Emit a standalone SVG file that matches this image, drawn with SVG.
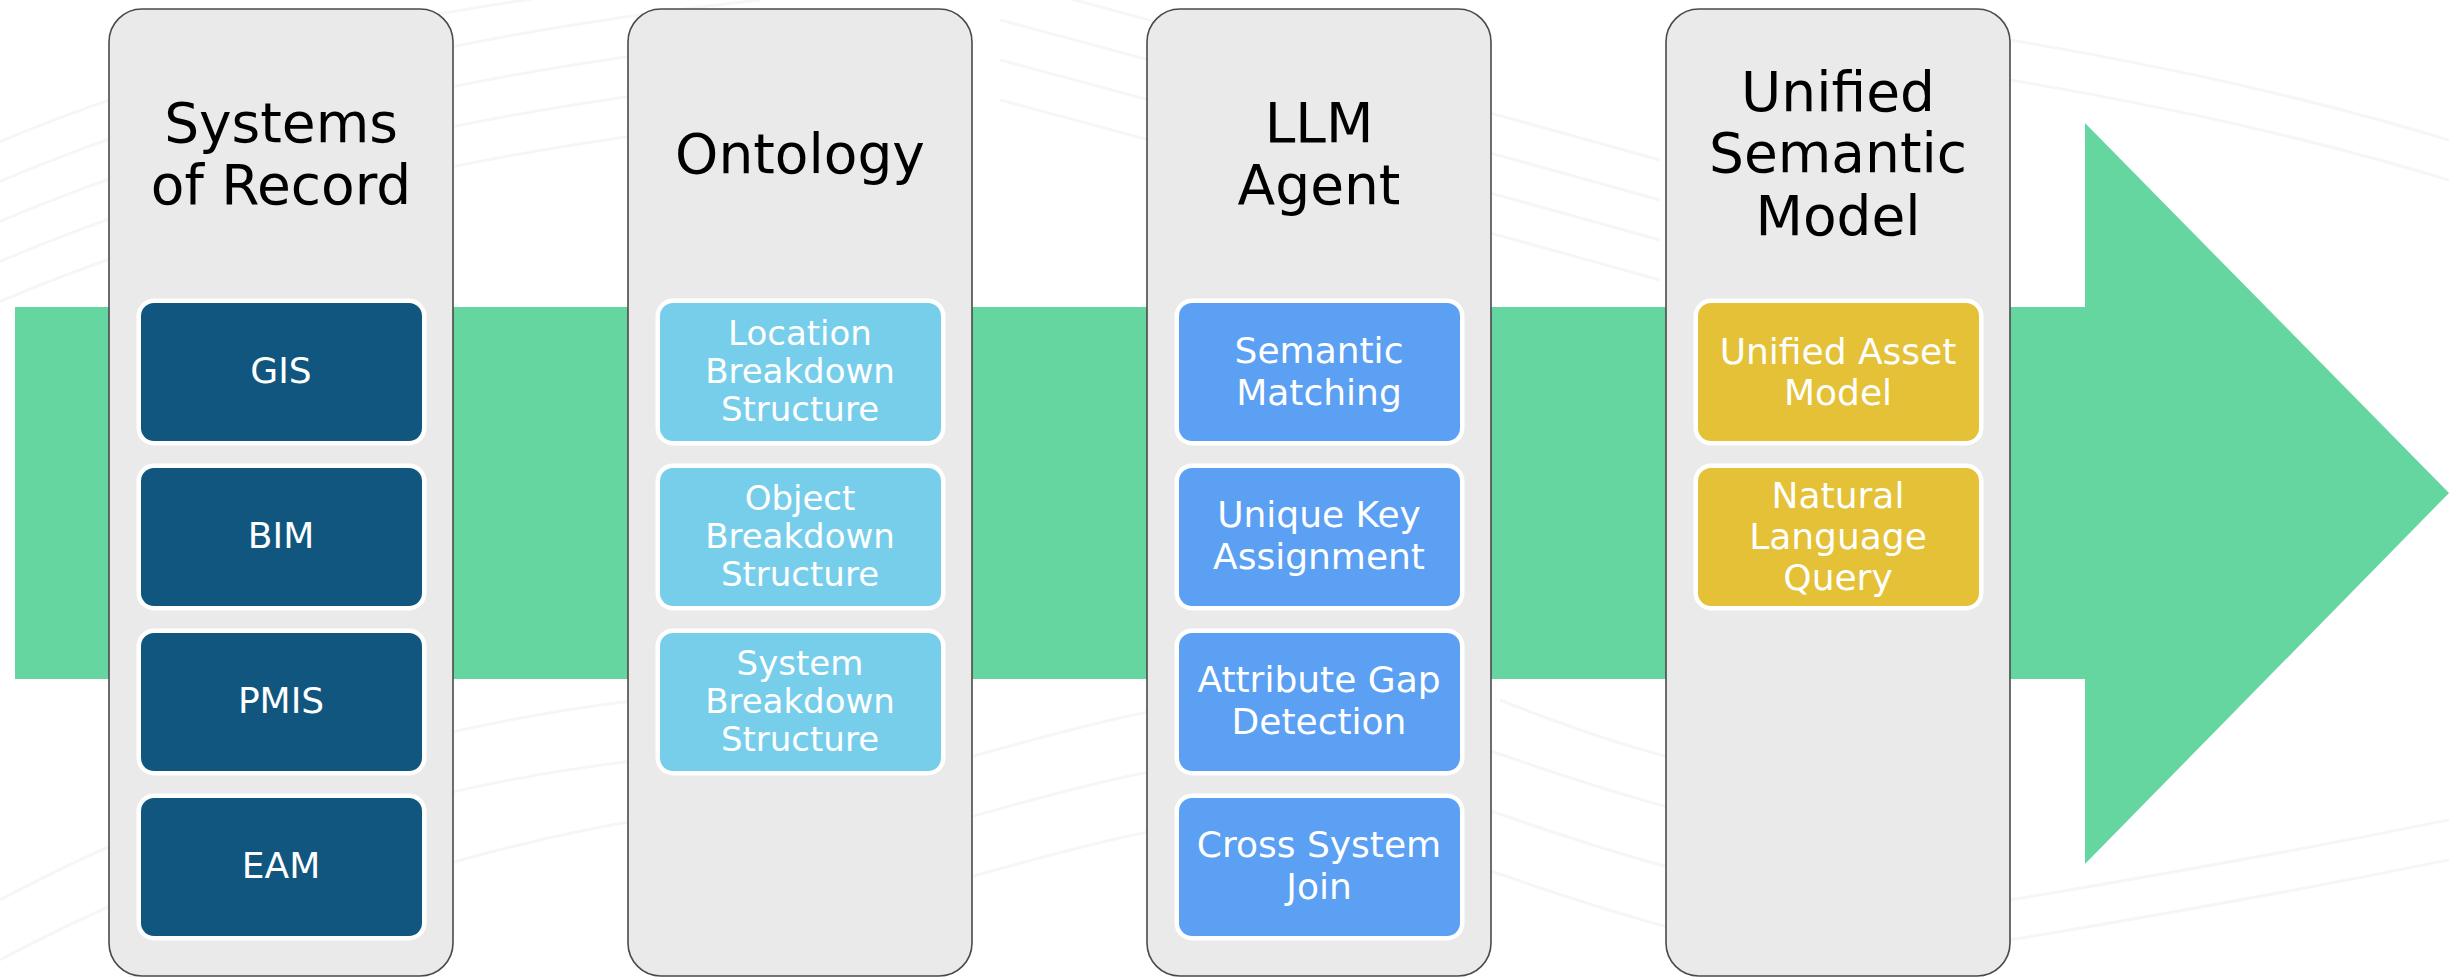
<svg xmlns="http://www.w3.org/2000/svg" width="2449" height="977" viewBox="0 0 2449 977">
  <style>
    .bg { fill: none; stroke: #f5f7f6; stroke-width: 3; }
    .col { fill: #eaeaea; stroke: #4a4a4a; stroke-width: 1.6; }
    .box { stroke: #ffffff; stroke-width: 9; paint-order: stroke fill; }
    .sor { fill: #10567f; }
    .ont { fill: #77ceeb; }
    .llm { fill: #5ba0f3; }
    .usm { fill: #e4c136; }
    .title { font-family: "DejaVu Sans", "Liberation Sans", sans-serif; font-size: 55px; fill: #000000; text-anchor: middle; }
    .lbl { font-family: "DejaVu Sans", "Liberation Sans", sans-serif; font-size: 36px; fill: #ffffff; text-anchor: middle; }
    .lbl2 { font-family: "DejaVu Sans", "Liberation Sans", sans-serif; font-size: 34px; fill: #ffffff; text-anchor: middle; }
  </style>
  <rect x="0" y="0" width="2449" height="977" fill="#ffffff"/>
  <g id="background">
    <path class="bg" d="M -20 230 Q 300 90 760 40"/>
    <path class="bg" d="M -20 270 Q 300 130 760 80"/>
    <path class="bg" d="M -20 310 Q 300 170 760 120"/>
    <path class="bg" d="M -20 190 Q 300 50 760 0"/>
    <path class="bg" d="M -20 150 Q 260 30 600 -10"/>
    <path class="bg" d="M 1000 20 Q 1300 100 1660 200"/>
    <path class="bg" d="M 1000 60 Q 1300 140 1660 240"/>
    <path class="bg" d="M 1000 100 Q 1300 180 1660 280"/>
    <path class="bg" d="M 1000 -20 Q 1300 60 1660 160"/>
    <path class="bg" d="M 1500 700 Q 1600 740 1680 760"/>
    <path class="bg" d="M 1460 740 Q 1600 790 1680 810"/>
    <path class="bg" d="M 1460 800 Q 1600 850 1680 870"/>
    <path class="bg" d="M 1460 860 Q 1600 910 1680 930"/>
    <path class="bg" d="M 0 900 Q 300 740 640 700"/>
    <path class="bg" d="M 0 960 Q 300 800 640 760"/>
    <path class="bg" d="M 100 990 Q 400 860 640 820"/>
    <path class="bg" d="M 960 760 Q 1100 720 1160 710"/>
    <path class="bg" d="M 960 820 Q 1100 780 1160 770"/>
    <path class="bg" d="M 960 880 Q 1100 840 1160 830"/>
    <path class="bg" d="M 2010 40 Q 2250 80 2449 140"/>
    <path class="bg" d="M 2010 80 Q 2250 120 2449 180"/>
    <path class="bg" d="M 2010 900 Q 2250 860 2449 820"/>
    <path class="bg" d="M 2010 940 Q 2250 900 2449 860"/>
  </g>
  <g id="connectors">
    <polygon id="flow-arrow" points="15,307 2085,307 2085,123 2449,493 2085,864 2085,679 15,679" fill="#66d6a0"/>
  </g>
  <g id="systems-of-record">
    <rect class="col" x="109" y="9" width="344" height="967" rx="33"/>
    <text class="title" x="281" y="142">Systems</text>
    <text class="title" x="281" y="204">of Record</text>
    <g id="gis"><rect class="box sor" x="141" y="303" width="281" height="138" rx="13"/><text class="lbl" x="281" y="383">GIS</text></g>
    <g id="bim"><rect class="box sor" x="141" y="468" width="281" height="138" rx="13"/><text class="lbl" x="281" y="548">BIM</text></g>
    <g id="pmis"><rect class="box sor" x="141" y="633" width="281" height="138" rx="13"/><text class="lbl" x="281" y="713">PMIS</text></g>
    <g id="eam"><rect class="box sor" x="141" y="798" width="281" height="138" rx="13"/><text class="lbl" x="281" y="878">EAM</text></g>
  </g>
  <g id="ontology">
    <rect class="col" x="628" y="9" width="344" height="967" rx="33"/>
    <text class="title" x="800" y="173">Ontology</text>
    <g id="lbs"><rect class="box ont" x="660" y="303" width="281" height="138" rx="13"/>
      <text class="lbl2" x="800" y="345">Location</text><text class="lbl2" x="800" y="383">Breakdown</text><text class="lbl2" x="800" y="421">Structure</text></g>
    <g id="obs"><rect class="box ont" x="660" y="468" width="281" height="138" rx="13"/>
      <text class="lbl2" x="800" y="510">Object</text><text class="lbl2" x="800" y="548">Breakdown</text><text class="lbl2" x="800" y="586">Structure</text></g>
    <g id="sbs"><rect class="box ont" x="660" y="633" width="281" height="138" rx="13"/>
      <text class="lbl2" x="800" y="675">System</text><text class="lbl2" x="800" y="713">Breakdown</text><text class="lbl2" x="800" y="751">Structure</text></g>
  </g>
  <g id="llm-agent">
    <rect class="col" x="1147" y="9" width="344" height="967" rx="33"/>
    <text class="title" x="1319" y="142">LLM</text>
    <text class="title" x="1319" y="204">Agent</text>
    <g id="semantic-matching"><rect class="box llm" x="1179" y="303" width="281" height="138" rx="13"/>
      <text class="lbl" x="1319" y="363">Semantic</text><text class="lbl" x="1319" y="405">Matching</text></g>
    <g id="unique-key"><rect class="box llm" x="1179" y="468" width="281" height="138" rx="13"/>
      <text class="lbl" x="1319" y="527">Unique Key</text><text class="lbl" x="1319" y="569">Assignment</text></g>
    <g id="attribute-gap"><rect class="box llm" x="1179" y="633" width="281" height="138" rx="13"/>
      <text class="lbl" x="1319" y="692">Attribute Gap</text><text class="lbl" x="1319" y="734">Detection</text></g>
    <g id="cross-system"><rect class="box llm" x="1179" y="798" width="281" height="138" rx="13"/>
      <text class="lbl" x="1319" y="857">Cross System</text><text class="lbl" x="1319" y="899">Join</text></g>
  </g>
  <g id="unified-semantic-model">
    <rect class="col" x="1666" y="9" width="344" height="967" rx="33"/>
    <text class="title" x="1838" y="111">Unified</text>
    <text class="title" x="1838" y="172">Semantic</text>
    <text class="title" x="1838" y="235">Model</text>
    <g id="unified-asset"><rect class="box usm" x="1698" y="303" width="281" height="138" rx="13"/>
      <text class="lbl" x="1838" y="364">Unified Asset</text><text class="lbl" x="1838" y="405">Model</text></g>
    <g id="nlq"><rect class="box usm" x="1698" y="468" width="281" height="138" rx="13"/>
      <text class="lbl" x="1838" y="508">Natural</text><text class="lbl" x="1838" y="549">Language</text><text class="lbl" x="1838" y="590">Query</text></g>
  </g>
</svg>
